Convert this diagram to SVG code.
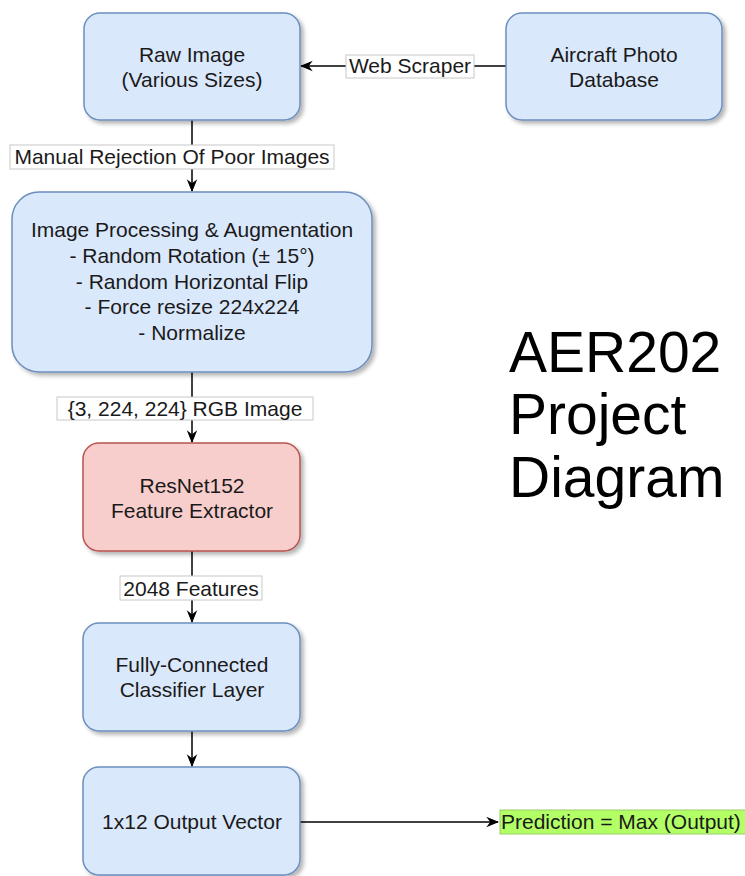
<svg xmlns="http://www.w3.org/2000/svg" width="745" height="876" viewBox="0 0 745 876">
<style>
  .n { font-family: "Liberation Sans", Arial, sans-serif; font-size: 21px; fill: #1a1a1a; text-anchor: middle; }
  .blue { fill: #dae8fc; stroke: #6c8ebf; stroke-width: 1.5; }
  .red { fill: #f8cecc; stroke: #b85450; stroke-width: 1.5; }
  .edge { stroke: #000; stroke-width: 1.5; fill: none; }
  .lbl { fill: #fff; stroke: #c8c8c8; stroke-width: 1; }
  .big { font-family: "Liberation Sans", Arial, sans-serif; font-size: 57px; fill: #000; }
</style>
<defs>
  <filter id="sh" x="-10%" y="-10%" width="130%" height="130%">
    <feGaussianBlur in="SourceAlpha" stdDeviation="2"/>
    <feOffset dx="3" dy="3" result="b"/>
    <feComponentTransfer><feFuncA type="linear" slope="0.3"/></feComponentTransfer>
    <feMerge><feMergeNode/><feMergeNode in="SourceGraphic"/></feMerge>
  </filter>
  <marker id="arrB" viewBox="0 0 10 10" refX="9" refY="5" markerWidth="13" markerHeight="13" markerUnits="userSpaceOnUse" orient="auto">
    <path d="M0,1 L10,5 L0,9 L3,5 Z" fill="#000"/>
  </marker>
</defs>
<rect width="745" height="876" fill="#fff"/>

<g id="connectors">
  <path class="edge" d="M506,66 L301,66" marker-end="url(#arrB)"/>
  <path class="edge" d="M192,120 L192,191" marker-end="url(#arrB)"/>
  <path class="edge" d="M192,372 L192,442" marker-end="url(#arrB)"/>
  <path class="edge" d="M192,551 L192,622" marker-end="url(#arrB)"/>
  <path class="edge" d="M192,731 L192,766" marker-end="url(#arrB)"/>
  <path class="edge" d="M300,822 L498,822" marker-end="url(#arrB)"/>
  <g id="edge-labels">
    <rect class="lbl" x="346" y="55" width="128" height="23"/>
    <text class="n" x="410" y="73">Web Scraper</text>
    <rect class="lbl" x="10" y="145" width="324" height="24"/>
    <text class="n" x="172" y="164">Manual Rejection Of Poor Images</text>
    <rect class="lbl" x="57" y="397" width="256" height="23"/>
    <text class="n" x="185" y="416">{3, 224, 224} RGB Image</text>
    <rect class="lbl" x="120" y="576" width="142" height="24"/>
    <text class="n" x="191" y="596">2048 Features</text>
    <rect x="500" y="810" width="250" height="24" fill="#b3ff66" stroke="#99cc66" stroke-width="1"/>
    <text class="n" x="501" y="829" style="text-anchor:start">Prediction = Max (Output)</text>
  </g>
</g>

<g id="raw-image">
  <rect class="blue" x="84" y="13" width="216" height="107" rx="16" filter="url(#sh)"/>
  <text class="n" x="192" y="62">Raw Image</text>
  <text class="n" x="192" y="87">(Various Sizes)</text>
</g>

<g id="aircraft-db">
  <rect class="blue" x="506" y="13" width="216" height="107" rx="16" filter="url(#sh)"/>
  <text class="n" x="614" y="62">Aircraft Photo</text>
  <text class="n" x="614" y="87">Database</text>
</g>

<g id="image-processing">
  <rect class="blue" x="12" y="192" width="360" height="180" rx="27" filter="url(#sh)"/>
  <text class="n" x="192" y="237">Image Processing &amp; Augmentation</text>
  <text class="n" x="192" y="263">- Random Rotation (± 15°)</text>
  <text class="n" x="192" y="289">- Random Horizontal Flip</text>
  <text class="n" x="192" y="314">- Force resize 224x224</text>
  <text class="n" x="192" y="340">- Normalize</text>
</g>

<g id="resnet">
  <rect class="red" x="83" y="443" width="217" height="108" rx="16" filter="url(#sh)"/>
  <text class="n" x="192" y="493">ResNet152</text>
  <text class="n" x="192" y="518">Feature Extractor</text>
</g>

<g id="fc-layer">
  <rect class="blue" x="83" y="623" width="217" height="108" rx="16" filter="url(#sh)"/>
  <text class="n" x="192" y="672">Fully-Connected</text>
  <text class="n" x="192" y="697">Classifier Layer</text>
</g>

<g id="output-vector">
  <rect class="blue" x="83" y="767" width="217" height="108" rx="16" filter="url(#sh)"/>
  <text class="n" x="192" y="829">1x12 Output Vector</text>
</g>

<g id="title">
  <text class="big" x="509" y="372">AER202</text>
  <text class="big" x="509" y="434">Project</text>
  <text class="big" x="509" y="497">Diagram</text>
</g>
</svg>
